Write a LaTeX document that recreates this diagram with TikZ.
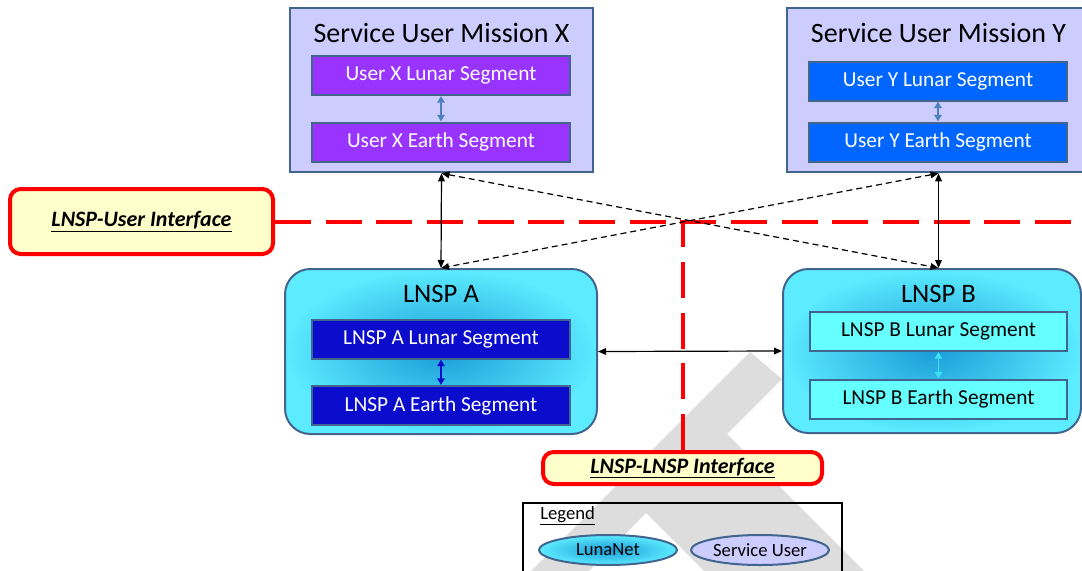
\documentclass[tikz,border=0pt]{standalone}
\usepackage{fontspec}
\setmainfont{Carlito}
\usepackage{tikz}
\usetikzlibrary{arrows.meta, positioning, shapes.geometric}

\definecolor{edgeblue}{HTML}{41658F}
\definecolor{userlav}{HTML}{CCCCFF}
\definecolor{userpurple}{HTML}{9933FF}
\definecolor{userblue}{HTML}{0066FF}
\definecolor{lnspdark}{HTML}{0C0CCC}
\definecolor{lnsplight}{HTML}{66FFFF}
\definecolor{lnspin}{HTML}{1A9CD8}
\definecolor{lnspout}{HTML}{5CEBFF}
\definecolor{ifyellow}{HTML}{FFFFCC}
\definecolor{wmgrey}{HTML}{DDDDDD}
\definecolor{steelarrow}{HTML}{4F81BD}
\definecolor{cyanarrow}{HTML}{3CE0F0}

\begin{document}
\begin{tikzpicture}[x=0.75pt, y=-0.75pt,
    every node/.style={font=\fontsize{16}{19}\selectfont, inner sep=0pt},
    userbox/.style={draw=edgeblue, line width=1.5pt, fill=userlav, minimum width=227.25pt, minimum height=123.5pt},
    lnspbox/.style={draw=edgeblue, line width=1.5pt, rounded corners=19pt, inner color=lnspin, outer color=lnspout},
    segbox/.style={draw=edgeblue, line width=1.5pt, minimum width=193.5pt, minimum height=29.25pt},
    boxtitle/.style={font=\fontsize{21}{25}\selectfont},
    ifbox/.style={draw=red, line width=3pt, fill=ifyellow, rounded corners=8pt, font=\fontsize{16.5}{19}\selectfont\bfseries\itshape},
    biarrow/.style={{Triangle[length=6pt,width=5pt]}-{Triangle[length=6pt,width=5pt]}, line width=0.9pt},
    crossarrow/.style={biarrow, line width=0.9pt, dash pattern=on 4.5pt off 3pt},
    segarrow/.style={{Triangle[length=5pt,width=5.5pt]}-{Triangle[length=5pt,width=5.5pt]}, line width=1.3pt},
    reddash/.style={draw=red, line width=3pt, dash pattern=on 27pt off 11pt},
    legendkey/.style={ellipse, draw=edgeblue, line width=1.5pt, minimum width=103.5pt, minimum height=22.5pt, font=\fontsize{14}{17}\selectfont}]
    \clip (0,0) rectangle (1082,571);
    % watermark
    \fill[wmgrey] (750,352) -- (782,379) -- (727,434) -- (864,571) -- (704,571) -- (646,513) -- (589,571) -- (531,571) -- cycle;

    % service users
    \node[userbox] (misX) at (441.5,90) {};
    \node[boxtitle] (misXtitle) at (441.5,33) {Service User Mission X};
    \node[segbox, fill=userpurple, text=white] (misXlunar) at (441,75.5) {User X Lunar Segment};
    \node[segbox, fill=userpurple, text=white] (misXearth) at (441,142) {User X Earth Segment};
    \draw[segarrow, steelarrow] (misXlunar) -- (misXearth);

    \node[userbox] (misY) at (938.5,90) {};
    \node[boxtitle] (misYtitle) at (938.5,33) {Service User Mission Y};
    \node[segbox, fill=userblue, text=white] (misYlunar) at (938,81) {User Y Lunar Segment};
    \node[segbox, fill=userblue, text=white] (misYearth) at (938,142) {User Y Earth Segment};
    \draw[segarrow, steelarrow] (misYlunar) -- (misYearth);

    % LNSPs
    \node[lnspbox, minimum width=234pt, minimum height=123.75pt] (lnspA) at (441,351.5) {};
    \node[font=\fontsize{20}{24}\selectfont] (lnspAtitle) at (441,294) {LNSP A};
    \node[segbox, fill=lnspdark, text=white] (lnspAlunar) at (441,339) {LNSP A Lunar Segment};
    \node[segbox, fill=lnspdark, text=white] (lnspAearth) at (441,405.5) {LNSP A Earth Segment};
    \draw[segarrow, lnspdark] (lnspAlunar) -- (lnspAearth);

    \node[lnspbox, minimum width=223.5pt, minimum height=123pt] (lnspB) at (932,351) {};
    \node[font=\fontsize{20}{24}\selectfont] (lnspBtitle) at (938.5,294) {LNSP B};
    \node[segbox, fill=lnsplight, minimum width=192.75pt] (lnspBlunar) at (938.5,331.5) {LNSP B Lunar Segment};
    \node[segbox, fill=lnsplight, minimum width=192.75pt] (lnspBearth) at (938.5,399) {LNSP B Earth Segment};
    \draw[segarrow, cyanarrow] (lnspBlunar) -- (lnspBearth);

    % interfaces
    \node[ifbox, minimum width=197.25pt, minimum height=48.75pt] (ifUser) at (141.5,221.5) {\underline{LNSP-User Interface}};
    \node[ifbox, minimum width=209.25pt, minimum height=24pt] (ifLnsp) at (682.5,468) {\underline{LNSP-LNSP Interface}};
    \coordinate (userEnd) at (1082,221.5);
    \draw[reddash] (ifUser.east) -- (userEnd);
    \draw[reddash] (ifLnsp.north) -- (ifLnsp.north |- ifUser.east);

    % links
    \draw[biarrow] (misX.south) -- (lnspA.north);
    \draw[biarrow] (misY.south) -- (misY.south |- lnspB.north);
    \draw[crossarrow] (misX.south) -- (misY.south |- lnspB.north);
    \draw[crossarrow] (misY.south) -- (lnspA.north);
    \draw[biarrow] (lnspA.east) -- (lnspB.west);

    % legend
    \node[draw=black, line width=1.8pt, minimum width=239.25pt, minimum height=85.5pt] (legend) at (682.5,560) {};
    \node[anchor=west, font=\fontsize{14}{17}\selectfont] (legendTitle) at (540,516) {\underline{Legend}};
    \node[legendkey, inner color=lnspin, outer color=lnspout] (keyLuna) at (608,550) {LunaNet};
    \node[legendkey, fill=userlav] (keyUser) at (760,550) {Service User};
\end{tikzpicture}
\end{document}
